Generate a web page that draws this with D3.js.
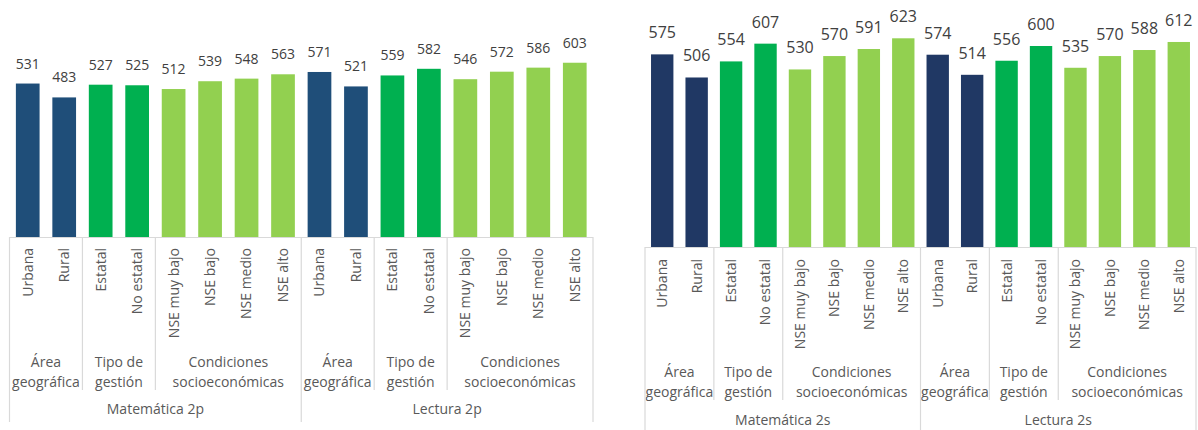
<!DOCTYPE html>
<html>
<head>
<meta charset="utf-8">
<script src="https://cdn.jsdelivr.net/npm/d3@7"></script>
<style>
  html, body { margin: 0; padding: 0; background: #fff; }
  svg { display: block; font-family: "Open Sans", "Noto Sans", sans-serif; }
</style>
</head>
<body>
<svg id="chart" width="1198" height="430"></svg>
<script>
// Categories and their grouping
const categories = ["Urbana", "Rural", "Estatal", "No estatal", "NSE muy bajo", "NSE bajo", "NSE medio", "NSE alto"];
const groupLabels = [["Área", "geográfica"], ["Tipo de", "gestión"], ["Condiciones", "socioeconómicas"]];
const groupSizes = [2, 2, 4];

// Scores by subject
const matematica2p = [531, 483, 527, 525, 512, 539, 548, 563];
const lectura2p    = [571, 521, 559, 582, 546, 572, 586, 603];
const matematica2s = [575, 506, 554, 607, 530, 570, 591, 623];
const lectura2s    = [574, 514, 556, 600, 535, 570, 588, 612];

const subjects2p = ["Matemática 2p", "Lectura 2p"];
const subjects2s = ["Matemática 2s", "Lectura 2s"];

const svg = d3.select("#chart");

function drawPanel(cfg) {
  const g = svg.append("g");
  const nCat = categories.length;

  // flat list of bars
  const rows = [];
  cfg.series.forEach((vals, si) => {
    let gi = 0, acc = 0;
    vals.forEach((v, ci) => {
      if (ci >= acc + groupSizes[gi]) { acc += groupSizes[gi]; gi++; }
      rows.push({ key: si + "-" + ci, subject: si, cat: categories[ci], group: gi, value: v });
    });
  });

  const x = d3.scaleBand()
    .domain(rows.map(d => d.key))
    .range([cfg.x0, cfg.x1])
    .paddingInner(0.35)
    .paddingOuter(0.175);
  const step = x.step();
  const slotLeft = i => cfg.x0 + i * step;

  const y = d3.scaleLinear().domain([0, 700]).range([cfg.base, cfg.base - 700 * cfg.pxPerUnit]);

  // bars
  g.selectAll("rect.bar").data(rows).join("rect")
    .attr("class", "bar")
    .attr("x", d => x(d.key))
    .attr("y", d => y(d.value))
    .attr("width", x.bandwidth())
    .attr("height", d => y(0) - y(d.value))
    .attr("fill", d => cfg.colors[d.group]);

  // value labels
  g.selectAll("text.val").data(rows).join("text")
    .attr("class", "val")
    .attr("x", d => x(d.key) + x.bandwidth() / 2)
    .attr("y", d => y(d.value) - cfg.labelGap)
    .attr("text-anchor", "middle")
    .attr("font-size", cfg.valFont)
    .attr("fill", "#404040")
    .text(d => d.value);

  const lineColor = "#d9d9d9";

  // category axis baseline
  g.append("line")
    .attr("x1", cfg.x0).attr("x2", cfg.x1)
    .attr("y1", cfg.base + 0.5).attr("y2", cfg.base + 0.5)
    .attr("stroke", lineColor).attr("stroke-width", 1.2);

  // rotated category labels
  g.selectAll("text.cat").data(rows).join("text")
    .attr("class", "cat")
    .attr("transform", d => `translate(${x(d.key) + x.bandwidth() / 2},${cfg.catTop}) rotate(-90)`)
    .attr("dy", "0.35em")
    .attr("text-anchor", "end")
    .attr("font-size", cfg.catFont)
    .attr("fill", "#595959")
    .text(d => d.cat);

  // group separators and labels
  cfg.series.forEach((vals, si) => {
    let acc = si * nCat;
    groupSizes.forEach((sz, gi) => {
      const left = slotLeft(acc);
      const right = slotLeft(acc + sz);
      if (gi > 0) {
        g.append("line")
          .attr("x1", left).attr("x2", left)
          .attr("y1", cfg.base).attr("y2", cfg.groupBottom)
          .attr("stroke", lineColor).attr("stroke-width", 1.2);
      }
      const cx = (left + right) / 2;
      groupLabels[gi].forEach((ln, li) => {
        g.append("text")
          .attr("x", cx)
          .attr("y", cfg.groupLine1 + li * cfg.groupLineH)
          .attr("dy", "0.35em")
          .attr("text-anchor", "middle")
          .attr("font-size", cfg.catFont)
          .attr("fill", "#595959")
          .text(ln);
      });
      acc += sz;
    });
    // subject label
    const sl = slotLeft(si * nCat), sr = slotLeft((si + 1) * nCat);
    g.append("text")
      .attr("x", (sl + sr) / 2)
      .attr("y", cfg.subjectY)
      .attr("dy", "0.35em")
      .attr("text-anchor", "middle")
      .attr("font-size", cfg.catFont)
      .attr("fill", "#595959")
      .text(cfg.subjects[si]);
  });

  // outer separators spanning all levels
  [0, nCat, 2 * nCat].forEach(i => {
    const xx = slotLeft(i);
    g.append("line")
      .attr("x1", xx).attr("x2", xx)
      .attr("y1", cfg.base).attr("y2", cfg.outerBottom)
      .attr("stroke", lineColor).attr("stroke-width", 1.2);
  });
}

drawPanel({
  series: [matematica2p, lectura2p],
  subjects: subjects2p,
  colors: ["#1f4e79", "#00b050", "#92d050"],
  x0: 9.5, x1: 593,
  base: 237, pxPerUnit: 0.289,
  labelGap: 15, valFont: 14, catFont: 14,
  catTop: 248,
  groupLine1: 362, groupLineH: 20, groupBottom: 390,
  subjectY: 409, outerBottom: 422
});

drawPanel({
  series: [matematica2s, lectura2s],
  subjects: subjects2s,
  colors: ["#203864", "#00b050", "#92d050"],
  x0: 645, x1: 1196,
  base: 247, pxPerUnit: 0.335,
  labelGap: 16, valFont: 16, catFont: 14,
  catTop: 259,
  groupLine1: 372, groupLineH: 20, groupBottom: 400,
  subjectY: 420, outerBottom: 432
});
</script>
</body>
</html>
